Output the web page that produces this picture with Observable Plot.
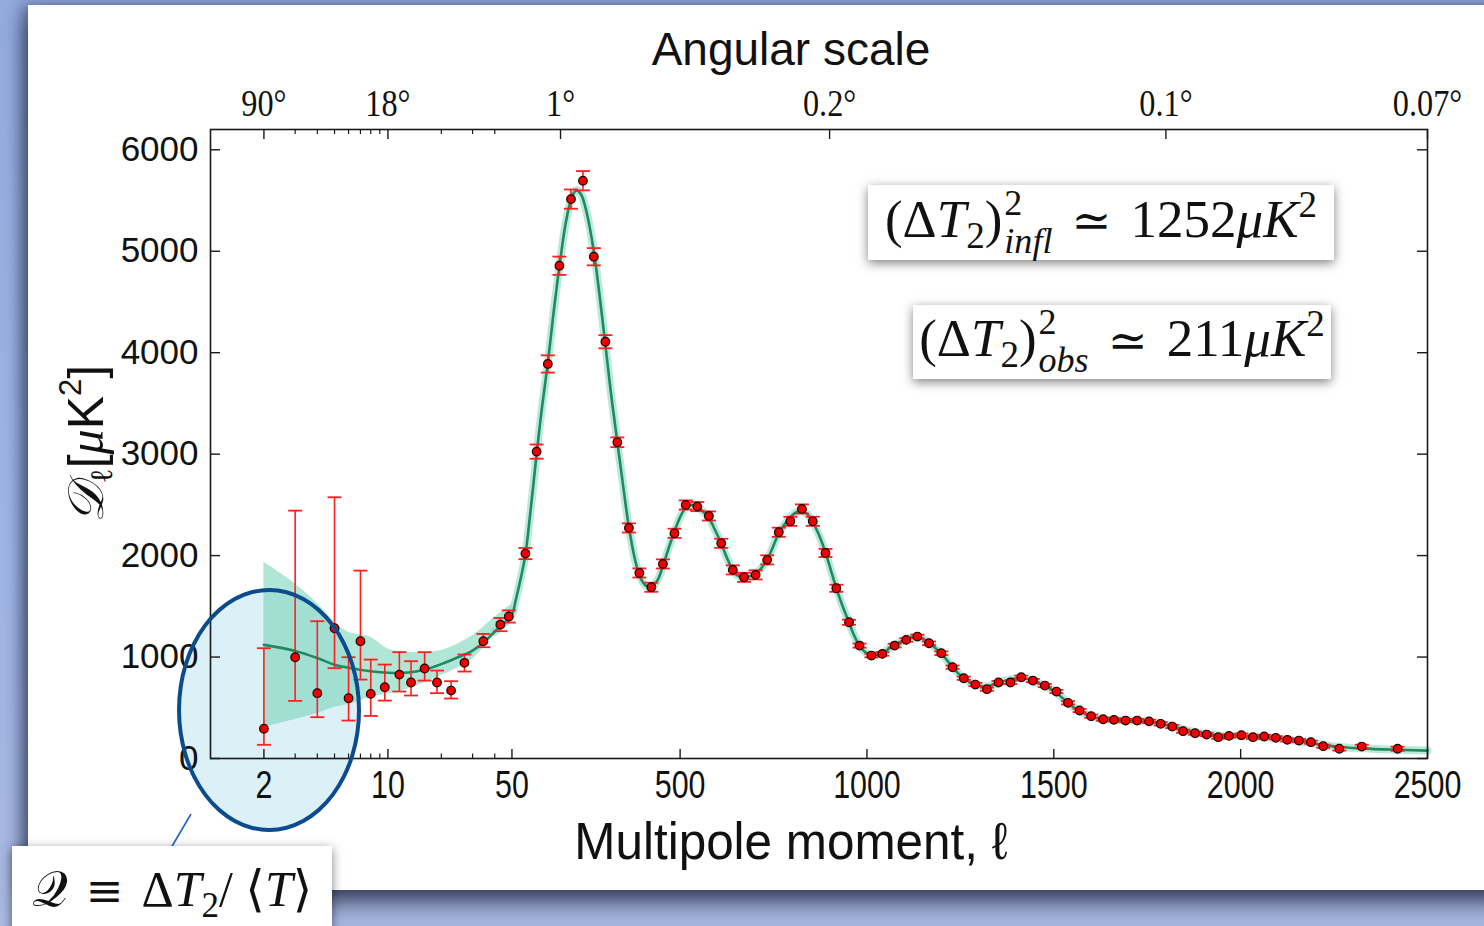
<!DOCTYPE html>
<html>
<head>
<meta charset="utf-8">
<script src="https://cdn.jsdelivr.net/npm/d3@7"></script>
<script src="https://cdn.jsdelivr.net/npm/@observablehq/plot@0.6"></script>
<style>
  html, body { margin: 0; padding: 0; }
  body {
    width: 1484px; height: 926px; overflow: hidden; position: relative;
    background: linear-gradient(180deg, #93abde 0%, #a0b6e6 60%, #a9b9e2 100%);
  }
  #panel {
    position: absolute; left: 28px; top: 5px; width: 1480px; height: 885px;
    background: #fff;
    box-shadow: -6px 0 12px rgba(40, 50, 90, 0.45), 0 12px 22px rgba(30, 35, 60, 0.8);
  }
  #ellipse-fill, #ellipse-edge {
    position: absolute; left: 177px; top: 588px; width: 184px; height: 244px;
    border-radius: 50%; box-sizing: border-box;
  }
  #ellipse-fill { background: #dcf0f8; }
  #ellipse-edge { border: 4.5px solid #0b4b8e; }
  #chart { position: absolute; left: 0; top: 0; }
  #overlay { position: absolute; left: 0; top: 0; }
  .eq {
    position: absolute; background: #fff; box-shadow: 0 3px 10px rgba(0, 0, 0, 0.5);
    font-family: "Liberation Serif", "DejaVu Serif", serif; font-size: 53px; line-height: 1;
    white-space: nowrap; display: flex; align-items: center; justify-content: center; color: #111;
  }
  #eq1 { left: 868px; top: 185px; width: 466px; height: 75px; }
  #eq2 { left: 913px; top: 305px; width: 418px; height: 74px; }
  #eqQ { left: 12px; top: 846px; width: 320px; height: 110px; align-items: flex-start; padding-top: 18px; box-sizing: border-box; font-size: 50px; }
  .eq sub { font-size: 0.7em; vertical-align: -0.3em; line-height: 0; }
  .eq sup { font-size: 0.7em; vertical-align: 0.55em; line-height: 0; }
  .ss { display: inline-flex; flex-direction: column; font-size: 0.68em; line-height: 1.05; vertical-align: 0.62em; margin-left: 2px; }
  .rel { font-family: "DejaVu Serif", serif; margin: 0 0.4em; font-size: 0.9em; }
  #ylab {
    position: absolute; left: 86px; top: 444px; transform: translate(-50%, -50%) rotate(-90deg);
    white-space: nowrap; font-size: 50px; line-height: 1; color: #111;
    font-family: "Liberation Sans", sans-serif;
  }
  #ylab .cal { font-family: "DejaVu Serif", "Liberation Serif", serif; font-style: italic; }
  #ylab sub { font-size: 0.62em; vertical-align: -0.3em; font-family: "Liberation Serif", serif; }
  #ylab sup { font-size: 0.62em; vertical-align: 0.7em; }
</style>
</head>
<body>
<div id="panel"></div>
<div id="ellipse-fill"></div>
<div id="chart"></div>
<div id="ellipse-edge"></div>
<svg id="overlay" width="1484" height="926"><line x1="171" y1="848" x2="191" y2="814" stroke="#1d64c4" stroke-width="1.6"/></svg>
<div id="ylab"><span class="cal">𝒟</span><sub>ℓ</sub>[<i style="font-family:'Liberation Serif',serif">μ</i>K<sup>2</sup>]</div>
<div class="eq" id="eq1"></div>
<div class="eq" id="eq2"></div>
<div class="eq" id="eqQ"><span>𝒬<span class="rel">≡</span>Δ<i>T</i><sub>2</sub>/ ⟨<i>T</i>⟩</span></div>
<script>
// Quadrupole power: inflationary expectation vs. observed (μK²)
const inflPower = 1252;
const obsPower = 211;

// Best-fit ΛCDM spectrum D_ℓ (μK²)
const modelL = [2,3,4,5,6,8,10,13,16,20,25,30,35,40,45,50,60,75,86,100,116,130,146,160,177,195,210,222,235,250,269,285,300,315,332,350,363,380,395,410,423,440,454,470,485,500,515,530,546,560,577,595,610,625,641,655,671,690,702,718,733,750,764,780,795,812,826,840,855,872,889,904,918,935,952,966,980,995,1012,1030,1041,1058,1074,1090,1105,1120,1135,1150,1166,1183,1199,1215,1229,1244,1259,1275,1290,1305,1321,1337,1352,1368,1384,1400,1413,1428,1444,1460,1476,1492,1507,1522,1538,1553,1569,1585,1600,1616,1632,1661,1692,1723,1752,1785,1817,1846,1877,1909,1940,1970,2002,2033,2063,2094,2125,2156,2188,2220,2264,2324,2400,2500];
const modelD = [1120,1060,990,925,895,860,845,848,875,930,1000,1064,1150,1250,1330,1420,1560,1800,2010,2450,3000,3450,3900,4350,4850,5300,5530,5600,5560,5380,5000,4550,4080,3600,3120,2620,2280,1950,1770,1700,1690,1760,1900,2080,2240,2380,2470,2500,2480,2440,2370,2240,2120,1980,1860,1800,1785,1800,1820,1880,1960,2100,2220,2310,2380,2430,2440,2410,2330,2200,2030,1850,1680,1500,1340,1210,1110,1050,1020,1025,1040,1080,1120,1150,1175,1195,1200,1180,1140,1090,1035,965,900,840,790,755,730,715,710,725,745,765,780,790,795,785,765,740,715,685,650,600,550,505,470,440,415,398,388,380,376,373,365,345,318,290,262,242,228,222,220,216,210,200,186,170,152,135,114,100,88,78];

// Cosmic-variance band around the model at low ℓ
const bandL  = [2,3,4,5,6,8,10,13,20,30,40,50];
const bandLo = [308,384,443,505,532,604,637,686,818,982,1228,1330];
const bandHi = [1934,1723,1527,1343,1244,1195,1080,1048,1064,1212,1392,1520];

// Low-ℓ measurements with asymmetric error bars
const lowL  = [2,3,4,5,6,7,8,9.6,11.6,13.5,16.1,18.9,22.7,27,34.5,43,48];
const lowD  = [293,998,644,1284,594,1156,637,703,827,749,887,749,670,943,1156,1320,1400];
const lowLo = [135,568,407,890,374,778,420,571,660,621,768,644,591,857,1097,1255,1340];
const lowHi = [1087,2443,1353,2575,998,1852,975,926,1048,959,1048,867,762,1025,1228,1385,1460];

// Binned high-ℓ measurements with symmetric errors
const highL = [86,116,146,177,208,240,269,300,332,363,391,423,454,485,515,546,577,610,641,671,702,733,764,795,826,855,889,918,952,980,1012,1041,1074,1105,1135,1166,1199,1229,1259,1290,1321,1352,1384,1413,1444,1476,1507,1538,1569,1600,1632,1661,1692,1723,1755,1786,1817,1846,1878,1909,1940,1969,2002,2033,2063,2094,2125,2156,2188,2221,2264,2324,2420];
const highD = [2020,3025,3889,4857,5514,5695,4946,4108,3117,2273,1829,1688,1918,2220,2499,2483,2391,2121,1859,1786,1810,1958,2230,2338,2460,2338,2026,1678,1343,1113,1015,1031,1113,1169,1202,1136,1038,900,791,729,683,749,749,801,768,719,660,549,473,417,387,381,374,374,366,342,315,269,249,236,210,223,230,210,217,204,184,177,161,121,96,118,96];
const highErr = [55,70,85,90,95,95,85,65,48,45,45,45,45,45,45,45,45,45,45,45,45,45,45,45,45,45,40,35,25,20,18,18,18,18,18,18,18,16,16,16,16,16,16,16,16,16,16,16,16,16,16,16,16,16,16,16,16,16,16,16,16,16,16,16,16,16,16,16,16,16,18,18,20];

// Axis ticks
const yTicks = [0,1000,2000,3000,4000,5000,6000];
const xTickL = [2,10,50,500,1000,1500,2000,2500];
const xTickText = ["2","10","50","500","1000","1500","2000","2500"];
const xMinorL = [3,4,5,6,7,8,9,20,30,40];
const angleL = [2,10,180,900,1800,2500];
const angleText = ["90°","18°","1°","0.2°","0.1°","0.07°"];

// Layout
const W = 1484, H = 926;
const mL = 210, mR = 57, mT = 129, mB = 168;
const plotW = W - mL - mR, plotH = H - mT - mB;
const YMAX = 6200;

// Hybrid ℓ axis: logarithmic up to ℓ = 50, linear from there to 2500
const LBREAK = 50, LMAX = 2500, logShare = 0.2477;
const U = l => l <= LBREAK
  ? logShare * Math.log10(l) / Math.log10(LBREAK)
  : logShare + (1 - logShare) * (l - LBREAK) / (LMAX - LBREAK);
const pxX = n => n / plotW;          // pixel length → x units
const pxY = n => n * YMAX / plotH;   // pixel length → y units

const model = modelL.map((l, i) => ({l, d: modelD[i]}));
const band = bandL.map((l, i) => ({l, lo: bandLo[i], hi: bandHi[i]}));
const pts = lowL.map((l, i) => ({l, d: lowD[i], lo: lowLo[i], hi: lowHi[i]}))
  .concat(highL.map((l, i) => ({l, d: highD[i], lo: highD[i] - highErr[i], hi: highD[i] + highErr[i]})));

const cap = {draw(ctx, size) { const w = Math.sqrt(size / Math.PI); ctx.moveTo(-w, 0); ctx.lineTo(w, 0); }};
const X = d => U(d.l);
const ink = "#1a1a1a";

const chart = Plot.plot({
  width: W, height: H,
  marginLeft: mL, marginRight: mR, marginTop: mT, marginBottom: mB,
  style: {background: "transparent", overflow: "visible"},
  x: {domain: [0, 1], axis: null},
  y: {domain: [0, YMAX], axis: null},
  marks: [
    Plot.areaY(band, {x: X, y1: "lo", y2: "hi", fill: "#6fd1b2", fillOpacity: 0.55, curve: "catmull-rom"}),
    Plot.line(model.filter(d => d.l >= 40), {x: X, y: "d", stroke: "#8edbc2", strokeWidth: 8, strokeOpacity: 0.6, curve: "catmull-rom"}),
    Plot.line(model, {x: X, y: "d", stroke: "#1e8a5f", strokeWidth: 2.6, curve: "catmull-rom"}),
    Plot.ruleX(pts, {x: X, y1: "lo", y2: "hi", stroke: "#ff1f1f", strokeWidth: 1.6}),
    Plot.dot(pts, {x: X, y: "lo", symbol: cap, r: 7, fill: "none", stroke: "#ff1f1f", strokeWidth: 1.8}),
    Plot.dot(pts, {x: X, y: "hi", symbol: cap, r: 7, fill: "none", stroke: "#ff1f1f", strokeWidth: 1.8}),
    Plot.dot(pts, {x: X, y: "d", r: 4.3, fill: "#ee0000", stroke: "#1a0000", strokeWidth: 1.2}),
    Plot.frame({stroke: ink, strokeWidth: 1.6}),
    // inward ticks: bottom, top, left, right
    Plot.ruleX(xTickL, {x: U, y1: 0, y2: pxY(9), stroke: ink, strokeWidth: 1.4}),
    Plot.ruleX(xMinorL, {x: U, y1: 0, y2: pxY(4.5), stroke: ink, strokeWidth: 1.2}),
    Plot.ruleX(angleL, {x: U, y1: YMAX, y2: YMAX - pxY(10), stroke: ink, strokeWidth: 1.4}),
    Plot.ruleX(xMinorL, {x: U, y1: YMAX, y2: YMAX - pxY(5), stroke: ink, strokeWidth: 1.2}),
    Plot.ruleY(yTicks, {y: d => d, x1: 0, x2: pxX(10), stroke: ink, strokeWidth: 1.4}),
    Plot.ruleY(yTicks, {y: d => d, x1: 1, x2: 1 - pxX(10), stroke: ink, strokeWidth: 1.4}),
    // tick labels
    Plot.text(yTicks, {x: 0, y: d => d, text: d => String(d), dx: -12, textAnchor: "end", fontSize: 35, fontFamily: "Liberation Sans", fill: "#111"}),
    Plot.text(xTickL, {x: U, y: 0, text: (d, i) => xTickText[i], dy: 27, fontSize: 38, fontFamily: "Liberation Sans", fill: "#111", className: "xlab"}),
    Plot.text(angleL, {x: U, y: YMAX, text: (d, i) => angleText[i], dy: -26, fontSize: 38, fontFamily: "Liberation Serif", fill: "#111", className: "alab"}),
    // axis titles
    Plot.text(["Angular scale"], {frameAnchor: "top", text: d => d, dx: -28, dy: -97, fontSize: 46, fontFamily: "Liberation Sans", fill: "#111"}),
    Plot.text(["Multipole moment, ℓ"], {frameAnchor: "bottom", text: d => d, dx: -28, dy: 100, fontSize: 52, fontFamily: "Liberation Sans", fill: "#111", className: "xtitle"})
  ]
});
document.getElementById("chart").appendChild(chart);

// narrower lettering for the ℓ-axis labels
function squeeze(sel, k) {
  d3.select(chart).selectAll(sel).each(function() {
    const w = this.getComputedTextLength();
    this.setAttribute("textLength", w * k);
    this.setAttribute("lengthAdjust", "spacingAndGlyphs");
  });
}
squeeze(".xlab text", 0.8);
squeeze(".xtitle text", 0.95);
squeeze(".alab text", 0.85);

document.getElementById("eq1").innerHTML =
  `<span>(Δ<i>T</i><sub>2</sub>)<span class="ss"><span>2</span><span><i>infl</i></span></span><span class="rel">≃</span>${inflPower}<i>μK</i><sup>2</sup></span>`;
document.getElementById("eq2").innerHTML =
  `<span>(Δ<i>T</i><sub>2</sub>)<span class="ss"><span>2</span><span><i>obs</i></span></span><span class="rel">≃</span>${obsPower}<i>μK</i><sup>2</sup></span>`;
</script>
</body>
</html>
